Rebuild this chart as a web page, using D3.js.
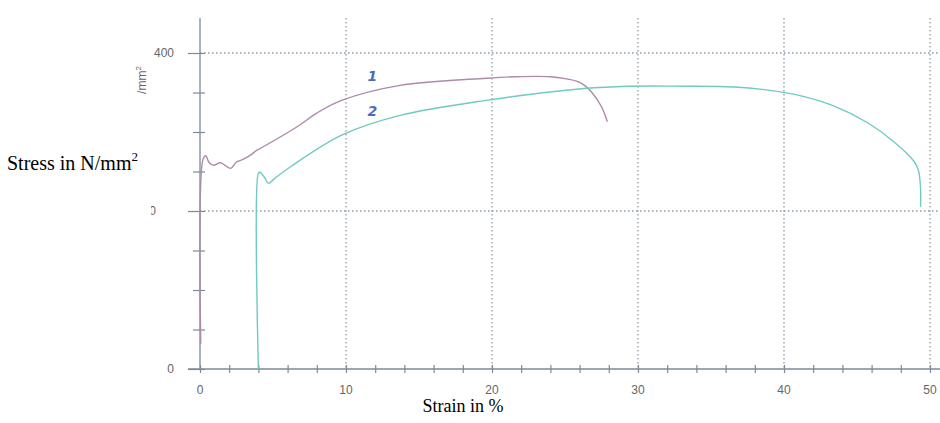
<!DOCTYPE html>
<html>
<head>
<meta charset="utf-8">
<script src="https://cdn.jsdelivr.net/npm/d3@7"></script>
<style>
  body { margin: 0; background: #fff; }
  svg { display: block; }
</style>
</head>
<body>
<div id="chart-area"></div>
<script>
// values
const strain1 = [0.05, 0.2, 0.4, 0.6, 0.9, 1.4, 1.7, 2.1, 2.5, 2.9, 3.4, 3.9, 4.3, 6.6, 8.0, 9.7, 13.7, 19.6, 21.6, 24, 25.2, 26.1, 26.8, 27.5, 27.9]
const stress1 = [32, 265, 270, 262, 258, 261, 258, 254, 262, 265, 270, 277, 281, 306, 324, 340, 359, 368, 370, 370, 367, 362, 351, 332, 313]

const strain2 = [4.0, 4.0, 4.1, 4.4, 4.7, 5.1, 6.2, 9.7, 13.7, 19.6, 26.3, 29.3, 33.1, 36.6, 38.9, 41.1, 43.4, 45.7, 47.5, 48.9, 49.2, 49.35, 49.35]
const stress2 = [0, 248, 249, 243, 235, 241, 256, 296, 321, 340, 355, 358, 358, 357, 353, 346, 333, 312, 288, 263, 252, 230, 205]

const xTicks = [0, 10, 20, 30, 40, 50]
const yTicks = [0, 200, 400]
const curveNames = ["1", "2"]

const width = 940, height = 423

const svg = d3.select("#chart-area").append("svg")
    .attr("width", width)
    .attr("height", height)

const x = d3.scaleLinear().domain([0, 50]).range([200, 930])
const y = d3.scaleLinear().domain([0, 400]).range([369, 53])

const axisCol = "#7b8a9b"
const gridCol = "#8c9aa8"

// dotted grid
svg.append("g").selectAll("line")
    .data(xTicks.slice(1))
    .enter().append("line")
    .attr("x1", d => x(d)).attr("x2", d => x(d))
    .attr("y1", 18).attr("y2", y(0))
    .attr("stroke", gridCol)
    .attr("stroke-width", 1.3)
    .attr("stroke-dasharray", "1.5,2.5")

svg.append("g").selectAll("line")
    .data(yTicks.slice(1))
    .enter().append("line")
    .attr("x1", x(0)).attr("x2", width)
    .attr("y1", d => y(d)).attr("y2", d => y(d))
    .attr("stroke", gridCol)
    .attr("stroke-width", 1.3)
    .attr("stroke-dasharray", "1.5,2.5")

// x axis
const xAxis = svg.append("g")
    .attr("transform", `translate(0,${y(0)})`)
    .call(d3.axisBottom(x).tickValues(d3.range(0, 51, 2)).tickSize(4).tickFormat(""))
xAxis.select(".domain").attr("d", `M188,0H${width}`).attr("stroke", axisCol).attr("stroke-width", 1.3)
xAxis.selectAll(".tick line").attr("y1", -4).attr("stroke", axisCol).attr("stroke-width", 1.2)

svg.append("g").selectAll("text")
    .data(xTicks)
    .enter().append("text")
    .attr("x", d => x(d))
    .attr("y", y(0) + 25)
    .attr("text-anchor", "middle")
    .attr("font-family", "Liberation Sans, Arial, sans-serif")
    .attr("font-size", 12)
    .attr("fill", "#666")
    .text(d => d)

// y axis
const yAxis = svg.append("g")
    .attr("transform", `translate(${x(0)},0)`)
    .call(d3.axisLeft(y).tickValues(d3.range(0, 401, 50)).tickSize(6).tickFormat(""))
yAxis.select(".domain").attr("d", `M0,18V${y(0)}`).attr("stroke", axisCol).attr("stroke-width", 1.3)
yAxis.selectAll(".tick line").attr("x2", d => (d % 200 === 0 ? -12 : -7)).attr("x1", 5)
    .attr("stroke", axisCol).attr("stroke-width", 1.2)

svg.append("clipPath").attr("id", "ylab-clip")
    .append("rect").attr("x", 151).attr("y", 0).attr("width", 60).attr("height", height)

svg.append("g").attr("clip-path", "url(#ylab-clip)").selectAll("text")
    .data(yTicks)
    .enter().append("text")
    .attr("x", d => (d === 200 ? 156 : 174))
    .attr("y", d => y(d) + 4)
    .attr("text-anchor", "end")
    .attr("font-family", "Liberation Sans, Arial, sans-serif")
    .attr("font-size", 12)
    .attr("fill", "#666")
    .text(d => d)

const unit = svg.append("text")
    .attr("transform", "translate(146,80) rotate(-90)")
    .attr("text-anchor", "middle")
    .attr("font-family", "Liberation Sans, Arial, sans-serif")
    .attr("font-size", 12)
    .attr("fill", "#666")
unit.append("tspan").text("/mm")
unit.append("tspan").attr("font-size", 8).attr("dy", -5).text("2")

// curves
const line = d3.line()
    .x(d => x(d[0]))
    .y(d => y(d[1]))
    .curve(d3.curveCatmullRom.alpha(0.5))

svg.append("path")
    .datum(d3.zip(strain1, stress1))
    .attr("d", line)
    .attr("fill", "none")
    .attr("stroke", "#ad8aaa")
    .attr("stroke-width", 1.4)

svg.append("path")
    .datum(d3.zip(strain2, stress2))
    .attr("d", line)
    .attr("fill", "none")
    .attr("stroke", "#6fcac2")
    .attr("stroke-width", 1.4)

// handwritten curve numbers
svg.append("g").selectAll("text")
    .data(curveNames)
    .enter().append("text")
    .attr("x", x(11.8))
    .attr("y", (d, i) => (i === 0 ? y(364) : y(320)))
    .attr("text-anchor", "middle")
    .attr("font-family", "DejaVu Sans, sans-serif")
    .attr("font-style", "italic")
    .attr("font-weight", "bold")
    .attr("font-size", 14)
    .attr("fill", "#4a6cc0")
    .text(d => d)

// axis titles
const yt = svg.append("text")
    .attr("x", 7)
    .attr("y", 170)
    .attr("font-family", "Liberation Serif, Times New Roman, serif")
    .attr("font-size", 20)
    .attr("fill", "#000")
yt.append("tspan").text("Stress in N/mm")
yt.append("tspan").attr("font-size", 13).attr("dy", -9).text("2")

svg.append("text")
    .attr("x", 463)
    .attr("y", 412)
    .attr("text-anchor", "middle")
    .attr("font-family", "Liberation Serif, Times New Roman, serif")
    .attr("font-size", 18)
    .attr("fill", "#000")
    .text("Strain in %")
</script>
</body>
</html>
